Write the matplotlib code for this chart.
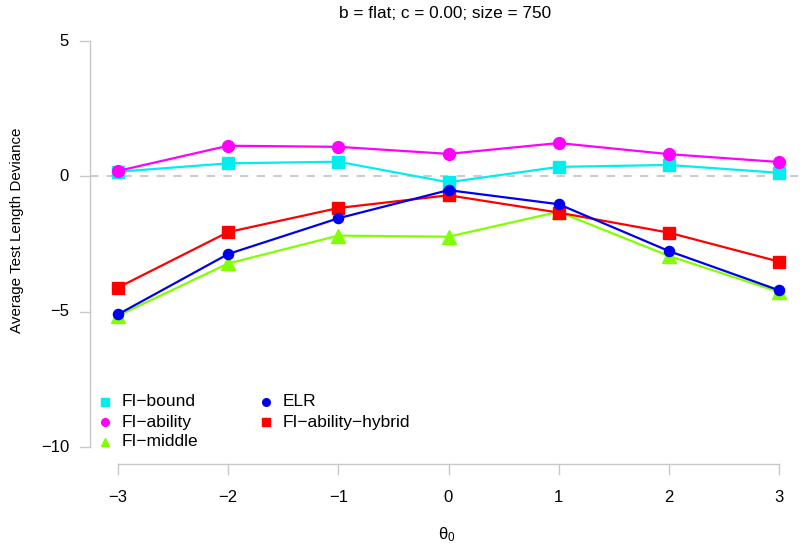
import matplotlib
matplotlib.use("Agg")
import matplotlib.pyplot as plt
from matplotlib.lines import Line2D

plt.rcParams['font.family'] = ['Liberation Sans', 'DejaVu Sans']
plt.rcParams['axes.unicode_minus'] = True
plt.rcParams['mathtext.fontset'] = 'custom'
plt.rcParams['mathtext.rm'] = 'Liberation Sans'
plt.rcParams['mathtext.it'] = 'Liberation Sans'

theta = [-3, -2, -1, 0, 1, 2, 3]
fi_bound = [0.17, 0.48, 0.54, -0.22, 0.35, 0.42, 0.13]
fi_ability = [0.20, 1.13, 1.09, 0.83, 1.23, 0.82, 0.53]
fi_middle = [-5.15, -3.22, -2.19, -2.23, -1.31, -2.94, -4.27]
elr = [-5.10, -2.87, -1.55, -0.51, -1.03, -2.76, -4.21]
fi_hybrid = [-4.11, -2.06, -1.17, -0.70, -1.34, -2.08, -3.15]

xticks = [-3, -2, -1, 0, 1, 2, 3]
yticks = [-10, -5, 0, 5]
title = "b = flat; c = 0.00; size = 750"

W, H = 802, 544
fig = plt.figure(figsize=(W / 100, H / 100), dpi=100)
left, right, top, bottom = 90, 802, 24, 464
ax = fig.add_axes([left / W, 1 - bottom / H, (right - left) / W, (bottom - top) / H])

# axis limits chosen so -3 -> px 118, 3 -> px 779 ; 5 -> px 41, -10 -> px 447
xpp = 661 / 6.0
ax.set_xlim(-3 - 28 / xpp, 3 + 23 / xpp)
ypp = 406 / 15.0
ax.set_ylim(-10 - 17 / ypp, 5 + 17 / ypp)

ax.axhline(0, color='#cccccc', lw=1.5, ls=(0, (4, 4)), zorder=1)

series = [
    (fi_bound, '#00eeee', 's', 8.5, 'FI\u2212bound'),
    (fi_ability, '#ff00ff', 'o', 8.5, 'FI\u2212ability'),
    (fi_middle, '#80ff00', '^', 9.5, 'FI\u2212middle'),
    (fi_hybrid, '#ff0000', 's', 8.5, 'FI\u2212ability\u2212hybrid'),
    (elr, '#0000ee', 'o', 7.3, 'ELR'),
]
handles = {}
for vals, col, mk, ms, lab in series:
    ax.plot(theta, vals, color=col, lw=1.6, marker=mk, ms=ms, mec=col, mfc=col, zorder=3)
    handles[lab] = Line2D([], [], ls='none', marker=mk, color=col, ms=5.5 if mk != '^' else 6)

for s in ax.spines.values():
    s.set_visible(False)
ax.set_xticks([])
ax.set_yticks([])

# R-style detached axes
gc = '#c8c8c8'
ph = bottom - top
pw = right - left
trans_x = ax.get_xaxis_transform()
ax.plot([xticks[0], xticks[-1]], [0, 0], transform=trans_x, color=gc, lw=1, clip_on=False)
for t in xticks:
    ax.plot([t, t], [0, -10 / ph], transform=trans_x, color=gc, lw=1, clip_on=False)
    ax.text(t, -33 / ph, str(t).replace('-', '\u2212'), transform=trans_x,
            ha='center', va='center', fontsize=12)
trans_y = ax.get_yaxis_transform()
ax.plot([0, 0], [yticks[0], yticks[-1]], transform=trans_y, color=gc, lw=1, clip_on=False)
for t in yticks:
    ax.plot([0, -10 / pw], [t, t], transform=trans_y, color=gc, lw=1, clip_on=False)
    ax.text(-21 / pw, t, str(t).replace('-', '\u2212'), transform=trans_y,
            ha='right', va='center', fontsize=12)

fig.text(445 / W, 1 - 14 / H, title, ha='center', va='center', fontsize=12.4)
fig.text(17 / W, 1 - 230 / H, 'Average Test Length Deviance', rotation=90,
         ha='center', va='center', fontsize=10.9)
fig.text(447 / W, 1 - 535 / H, r'$\mathregular{\theta_0}$', ha='center', va='center', fontsize=12)

# legend
legend_items = [
    ('FI\u2212bound', 105, 402), ('FI\u2212ability', 105, 422), ('FI\u2212middle', 105, 442),
    ('ELR', 266, 402), ('FI\u2212ability\u2212hybrid', 266, 422),
]
for lab, lx, ly in legend_items:
    h = handles[lab]
    fig.add_artist(Line2D([lx / W], [1 - ly / H], ls='none', marker=h.get_marker(),
                          color=h.get_color(), ms=h.get_markersize(),
                          transform=fig.transFigure))
    fig.text((lx + 17) / W, 1 - ly / H, lab, ha='left', va='center', fontsize=12.5)

fig.savefig('out.png', dpi=100)
